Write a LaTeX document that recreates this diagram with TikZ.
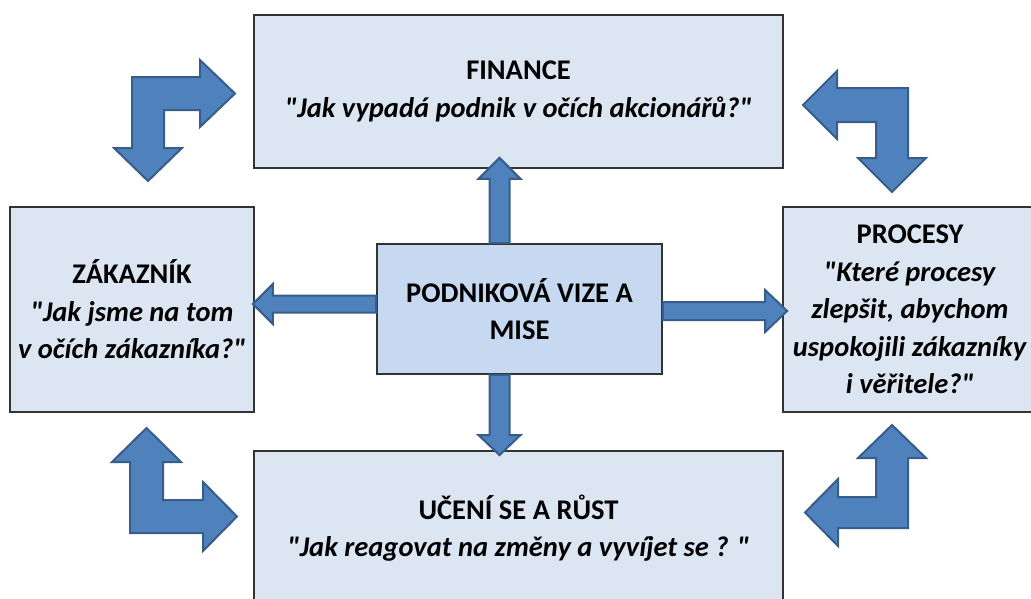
\documentclass[tikz,border=0pt]{standalone}
\usepackage{fontspec}
\setmainfont{Carlito}[Ligatures=TeXOff]
\usetikzlibrary{calc}
\definecolor{boxfill}{HTML}{DCE6F2}
\definecolor{ctrfill}{HTML}{C6D9F1}
\definecolor{arrfill}{HTML}{4F81BD}
\definecolor{arrline}{HTML}{385D8A}
\definecolor{boxline}{HTML}{333333}
\tikzset{
  box/.style={draw=boxline, line width=1.8pt, fill=boxfill, align=center, inner sep=0pt,
    font=\fontsize{28.5}{37.5}\selectfont\bfseries},
  ctrbox/.style={box, fill=ctrfill},
  barrow/.style={draw=arrline, fill=arrfill, line width=2pt, line join=miter},
}
\newcommand\q[1]{\textit{#1}}
\begin{document}
\begin{tikzpicture}[x=1pt,y=-1pt]
\useasboundingbox (0,0) rectangle (1031,598);
\clip (0,0) rectangle (1031,598);
% boxes
\node[box, minimum width=529pt, minimum height=153pt] (fin) at (518.5,91.5)
  {FINANCE\\\q{"Jak vypadá podnik v očích akcionářů?"}};
\node[box, minimum width=244pt, minimum height=205pt] (zak) at (132,309.5)
  {ZÁKAZNÍK\\\q{"Jak jsme na tom}\\\q{v očích zákazníka?"}};
\node[box, minimum width=254pt, minimum height=205pt] (pro) at (910,309.5)
  {PROCESY\\\q{"Které procesy}\\\q{zlepšit, abychom}\\\q{uspokojili zákazníky}\\\q{i věřitele?"}};
\node[box, minimum width=529pt, minimum height=154pt] (uce) at (518.5,528)
  {UČENÍ SE A RŮST\\\q{"Jak reagovat na změny a vyvíjet se ? "}};
\node[ctrbox, minimum width=285pt, minimum height=130pt] (ctr) at (519.5,309)
  {PODNIKOVÁ VIZE A\\MISE};
% straight arrows from centre box
\coordinate (s1) at ($(ctr.north)+(-20,0)$);
\coordinate (t1) at ($(s1 |- fin.south)+(0,-11)$);
\draw[barrow] ($(s1)+(-10,0)$) -- ($(t1)+(-10,21)$) -- ($(t1)+(-21,21)$) -- (t1)
  -- ($(t1)+(21,21)$) -- ($(t1)+(10,21)$) -- ($(s1)+(10,0)$) -- cycle;
\coordinate (s2) at ($(ctr.south)+(-20,0)$);
\coordinate (t2) at ($(s2 |- uce.north)+(0,5)$);
\draw[barrow] ($(s2)+(-10,0)$) -- ($(t2)+(-10,-20)$) -- ($(t2)+(-21,-20)$) -- (t2)
  -- ($(t2)+(21,-20)$) -- ($(t2)+(10,-20)$) -- ($(s2)+(10,0)$) -- cycle;
\coordinate (s3) at ($(ctr.west)+(0,-5)$);
\coordinate (t3) at ($(s3 -| zak.east)+(-2,0)$);
\draw[barrow] ($(s3)+(0,-8.5)$) -- ($(t3)+(20,-8.5)$) -- ($(t3)+(20,-20)$) -- (t3)
  -- ($(t3)+(20,20)$) -- ($(t3)+(20,8.5)$) -- ($(s3)+(0,8.5)$) -- cycle;
\coordinate (s4) at ($(ctr.east)+(0,2)$);
\coordinate (t4) at ($(s4 -| pro.west)+(5,0)$);
\draw[barrow] ($(s4)+(0,-9)$) -- ($(t4)+(-22,-9)$) -- ($(t4)+(-22,-21)$) -- (t4)
  -- ($(t4)+(-22,21)$) -- ($(t4)+(-22,9)$) -- ($(s4)+(0,9)$) -- cycle;
% bent arrows
\draw[barrow] (132,77) -- (200,77) -- (200,60) -- (235,93.5) -- (200,127) -- (200,110)
  -- (164,110) -- (164,148) -- (182,148) -- (148,181) -- (114,148) -- (132,148) -- cycle;
\draw[barrow] (908,88) -- (837,88) -- (837,71) -- (803,105) -- (837,139) -- (837,122)
  -- (876,122) -- (876,158) -- (858,158) -- (892,192) -- (926,158) -- (908,158) -- cycle;
\draw[barrow] (130,533) -- (130,462) -- (112,462) -- (146.5,428) -- (181,462) -- (163,462)
  -- (163,500) -- (203,500) -- (203,482) -- (237,516.5) -- (203,551) -- (203,533) -- cycle;
\draw[barrow] (908,528) -- (908,458) -- (926,458) -- (892,425) -- (858,458) -- (876,458)
  -- (876,497) -- (838,497) -- (838,479) -- (805,512.5) -- (838,546) -- (838,528) -- cycle;
\end{tikzpicture}
\end{document}
